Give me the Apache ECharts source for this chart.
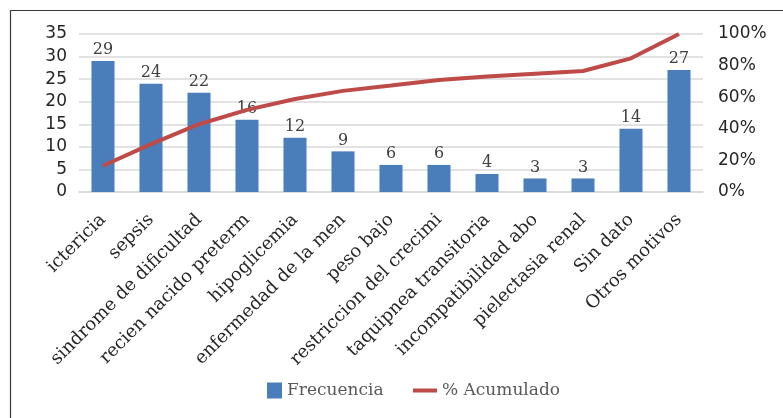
<!DOCTYPE html>
<html>
<head>
<meta charset="utf-8">
<script src="https://cdn.jsdelivr.net/npm/echarts@6/dist/echarts.min.js"></script>
<style>html,body{margin:0;padding:0;background:#fff;}#c{width:783px;height:418px;}</style>
</head>
<body>
<div id="c"></div>
<script>
const categories = ['ictericia','sepsis','sindrome de dificultad','recien nacido preterm','hipoglicemia','enfermedad de la men','peso bajo','restriccion del crecimi','taquipnea transitoria','incompatibilidad abo','pielectasia renal','Sin dato','Otros motivos'];
const frecuencia = [29,24,22,16,12,9,6,6,4,3,3,14,27];
const acumulado = [16.6,30.3,42.9,52.0,58.9,64.0,67.4,70.9,73.1,74.9,76.6,84.6,100];
const leftTicks = {min:0, max:35, interval:5};
const rightTicks = {min:0, max:100, interval:20};

const chart = echarts.init(document.getElementById('c'));
chart.setOption({
  animation:false,
  backgroundColor:'#fff',
  graphic:[{type:'rect', shape:{x:10.5,y:10.5,width:800,height:440}, style:{fill:'none', stroke:'#3a3a3a', lineWidth:1.2}, silent:true}],
  grid:{left:79, right:80, top:34, bottom:226},
  legend:[
    {data:[{name:'Frecuencia', icon:'rect'}], left:262, top:377, itemWidth:15, itemHeight:16, textStyle:{fontFamily:'DejaVu Serif', fontSize:17, color:'#595959'}},
    {data:[{name:'% Acumulado', icon:'rect'}], left:408, top:377, itemWidth:24, itemHeight:4, textStyle:{fontFamily:'DejaVu Serif', fontSize:17, color:'#595959', lineHeight:16}}
  ],
  xAxis:{type:'category', data:categories,
    axisLine:{lineStyle:{color:'#d9d9d9', width:1.5}}, axisTick:{show:false},
    axisLabel:{interval:0, rotate:45, margin:25, fontFamily:'DejaVu Serif', fontSize:18, color:'#262626'}},
  yAxis:[
    {type:'value', min:leftTicks.min, max:leftTicks.max, interval:leftTicks.interval,
     axisLine:{show:false}, axisTick:{show:false},
     splitLine:{lineStyle:{color:'#d9d9d9', width:1.5}},
     axisLabel:{margin:12, fontFamily:'DejaVu Sans', fontSize:17, color:'#262626'}},
    {type:'value', min:rightTicks.min, max:rightTicks.max, interval:rightTicks.interval,
     axisLine:{show:false}, axisTick:{show:false}, splitLine:{show:false},
     axisLabel:{margin:15, fontFamily:'DejaVu Sans', fontSize:17, color:'#262626', formatter:'{value}%'}}
  ],
  series:[
    {name:'Frecuencia', type:'bar', data:frecuencia, barWidth:'48%',
     itemStyle:{color:'#4A7EBB'},
     label:{show:true, position:'top', distance:3, fontFamily:'DejaVu Serif', fontSize:16, color:'#404040'}},
    {name:'% Acumulado', type:'line', yAxisIndex:1, data:acumulado, symbol:'none',
     lineStyle:{color:'#BE4B48', width:4}, itemStyle:{color:'#BE4B48'}}
  ]
});
</script>
</body>
</html>
